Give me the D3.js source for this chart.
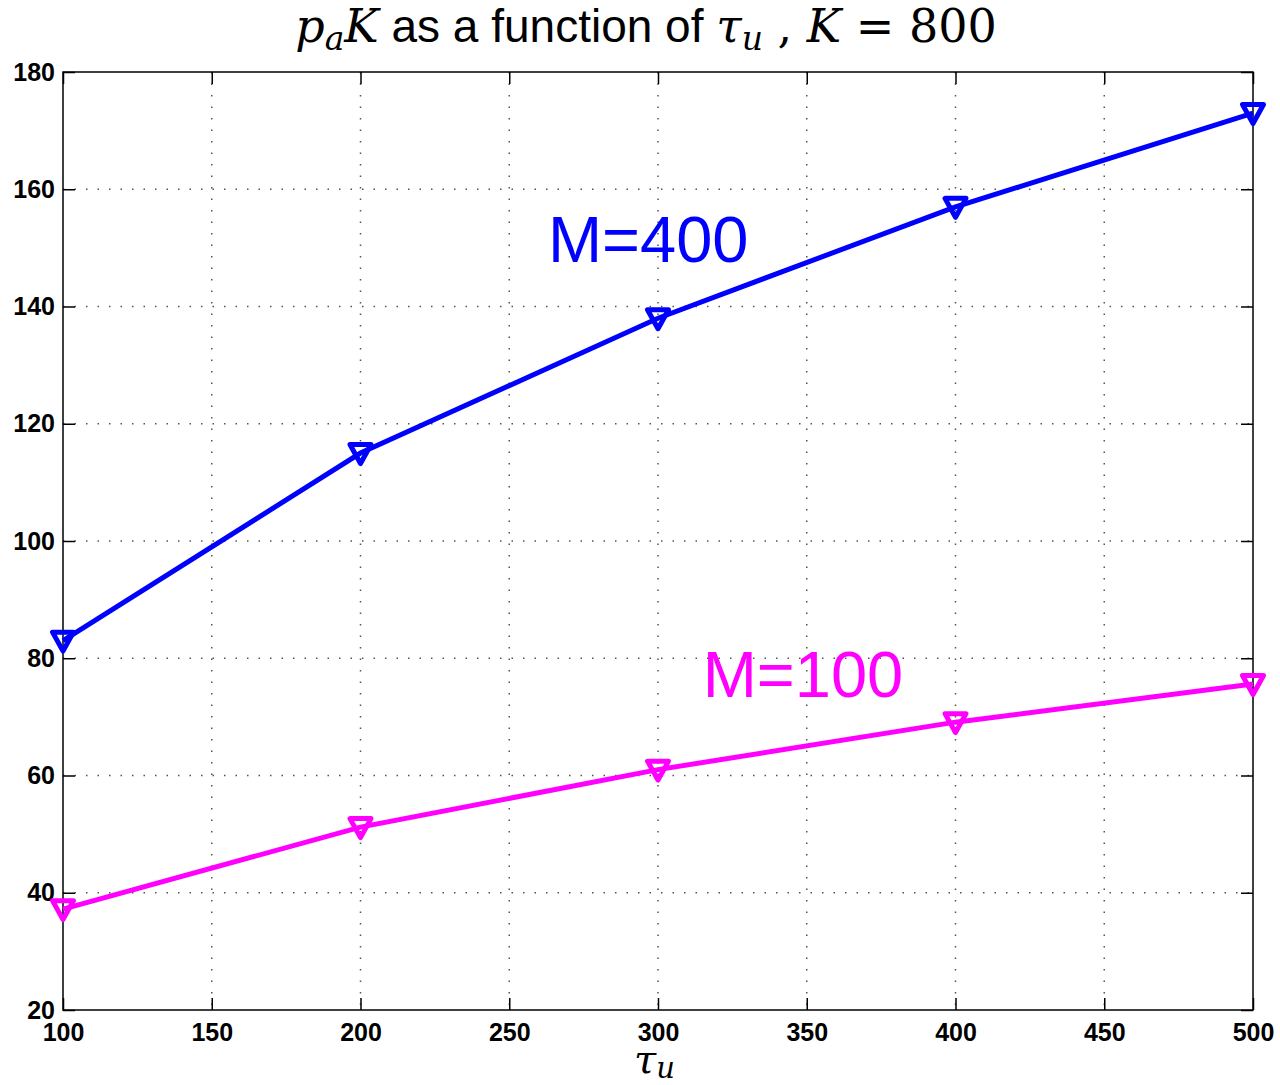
<!DOCTYPE html>
<html>
<head>
<meta charset="utf-8">
<script src="https://cdn.jsdelivr.net/npm/d3@7"></script>
<style>
  body { margin: 0; background: #fff; }
  svg { display: block; }
  .tick text { font-family: "Liberation Sans", Arial, sans-serif; font-weight: bold; font-size: 25px; fill: #000; }
</style>
</head>
<body>
<div id="chart"></div>
<script>
const tauValues = [100, 200, 300, 400, 500];
const m400Values = [83, 115, 138, 157, 173];
const m100Values = [37.2, 51.2, 61, 69.1, 75.6];
const xTicks = [100, 150, 200, 250, 300, 350, 400, 450, 500];
const yTicks = [20, 40, 60, 80, 100, 120, 140, 160, 180];

const w = 1280, h = 1085;
const plot = { left: 63, right: 1253, top: 72, bottom: 1010 };

const svg = d3.select("#chart").append("svg")
    .attr("width", w)
    .attr("height", h);

const x = d3.scaleLinear().domain([100, 500]).range([plot.left, plot.right]);
const y = d3.scaleLinear().domain([20, 180]).range([plot.bottom, plot.top]);

// grid
const grid = svg.append("g").attr("class", "grid");
grid.selectAll("line.gx")
    .data(xTicks.slice(1, -1))
    .enter().append("line")
    .attr("x1", d => x(d)).attr("x2", d => x(d))
    .attr("y1", plot.top).attr("y2", plot.bottom)
    .attr("stroke", "#555").attr("stroke-width", 1.5)
    .attr("stroke-dasharray", "1.5,10");
grid.selectAll("line.gy")
    .data(yTicks.slice(1, -1))
    .enter().append("line")
    .attr("x1", plot.left).attr("x2", plot.right)
    .attr("y1", d => y(d)).attr("y2", d => y(d))
    .attr("stroke", "#555").attr("stroke-width", 1.5)
    .attr("stroke-dasharray", "1.5,10");

// axes
const tickLen = 12;
svg.append("g")
    .attr("transform", "translate(0," + plot.bottom + ")")
    .call(d3.axisBottom(x).tickValues(xTicks).tickSizeInner(-tickLen).tickSizeOuter(0))
    .call(g => g.select(".domain").remove())
    .call(g => g.selectAll(".tick line").attr("stroke", "#000").attr("stroke-width", 1.5))
    .call(g => g.selectAll(".tick text").attr("dy", "0.71em").attr("y", 13));

svg.append("g")
    .attr("transform", "translate(" + plot.left + ",0)")
    .call(d3.axisLeft(y).tickValues(yTicks).tickSizeInner(-tickLen).tickSizeOuter(0))
    .call(g => g.select(".domain").remove())
    .call(g => g.selectAll(".tick line").attr("stroke", "#000").attr("stroke-width", 1.5))
    .call(g => g.selectAll(".tick text").attr("x", -8));

svg.append("g")
    .attr("transform", "translate(0," + plot.top + ")")
    .call(d3.axisTop(x).tickValues(xTicks).tickSizeInner(-tickLen).tickSizeOuter(0).tickFormat(""))
    .call(g => g.select(".domain").remove())
    .call(g => g.selectAll(".tick line").attr("stroke", "#000").attr("stroke-width", 1.5));

svg.append("g")
    .attr("transform", "translate(" + plot.right + ",0)")
    .call(d3.axisRight(y).tickValues(yTicks).tickSizeInner(-tickLen).tickSizeOuter(0).tickFormat(""))
    .call(g => g.select(".domain").remove())
    .call(g => g.selectAll(".tick line").attr("stroke", "#000").attr("stroke-width", 1.5));

svg.append("rect")
    .attr("x", plot.left).attr("y", plot.top)
    .attr("width", plot.right - plot.left).attr("height", plot.bottom - plot.top)
    .attr("fill", "none").attr("stroke", "#000").attr("stroke-width", 1.5);

// series
const series = [
    { name: "M=400", values: m400Values, color: "#0000ff" },
    { name: "M=100", values: m100Values, color: "#ff00ff" }
];

const line = d3.line().x(d => x(d[0])).y(d => y(d[1]));
const tri = "M-10.5,-8.5L10.5,-8.5L0,10.5Z";

series.forEach(s => {
    const pts = tauValues.map((t, i) => [t, s.values[i]]);
    svg.append("path")
        .datum(pts)
        .attr("d", line)
        .attr("fill", "none")
        .attr("stroke", s.color)
        .attr("stroke-width", 5);
    svg.selectAll(null)
        .data(pts)
        .enter().append("path")
        .attr("d", tri)
        .attr("transform", d => "translate(" + x(d[0]) + "," + y(d[1]) + ")")
        .attr("fill", "none")
        .attr("stroke", s.color)
        .attr("stroke-width", 5)
        .attr("stroke-linejoin", "round");
});

// series labels
const labelFont = '"Liberation Sans", Arial, sans-serif';
svg.append("text")
    .attr("x", x(263)).attr("y", 262)
    .attr("font-family", labelFont).attr("font-size", 65)
    .attr("fill", "#0000ff")
    .text("M=400");
svg.append("text")
    .attr("x", x(315)).attr("y", 697)
    .attr("font-family", labelFont).attr("font-size", 65)
    .attr("fill", "#ff00ff")
    .text("M=100");

// title
const mathFont = '"DejaVu Serif", "Liberation Serif", serif';
const title = svg.append("text")
    .attr("x", 646).attr("y", 42)
    .attr("text-anchor", "middle")
    .attr("font-size", 46)
    .attr("fill", "#000");
title.append("tspan").attr("font-family", mathFont).attr("font-style", "italic").text("p");
title.append("tspan").attr("font-family", mathFont).attr("font-style", "italic").attr("font-size", 33).attr("dy", 8).text("a");
title.append("tspan").attr("font-family", mathFont).attr("font-style", "italic").attr("dy", -8).text("K");
title.append("tspan").attr("font-family", '"Liberation Sans Narrow", "Liberation Sans", Arial, sans-serif').text(" as a function of ");
title.append("tspan").attr("font-family", mathFont).attr("font-style", "italic").text("τ");
title.append("tspan").attr("font-family", mathFont).attr("font-style", "italic").attr("font-size", 33).attr("dy", 8).text("u");
title.append("tspan").attr("font-family", mathFont).attr("dy", -8).text(" , ");
title.append("tspan").attr("font-family", mathFont).attr("font-style", "italic").text("K");
title.append("tspan").attr("font-family", mathFont).text(" = 800");

// x label
const xl = svg.append("text")
    .attr("x", 634).attr("y", 1073)
    .attr("font-family", mathFont).attr("font-style", "italic")
    .attr("font-size", 40).attr("fill", "#000");
xl.append("tspan").text("τ");
xl.append("tspan").attr("font-size", 29).attr("dy", 5).text("u");
</script>
</body>
</html>
